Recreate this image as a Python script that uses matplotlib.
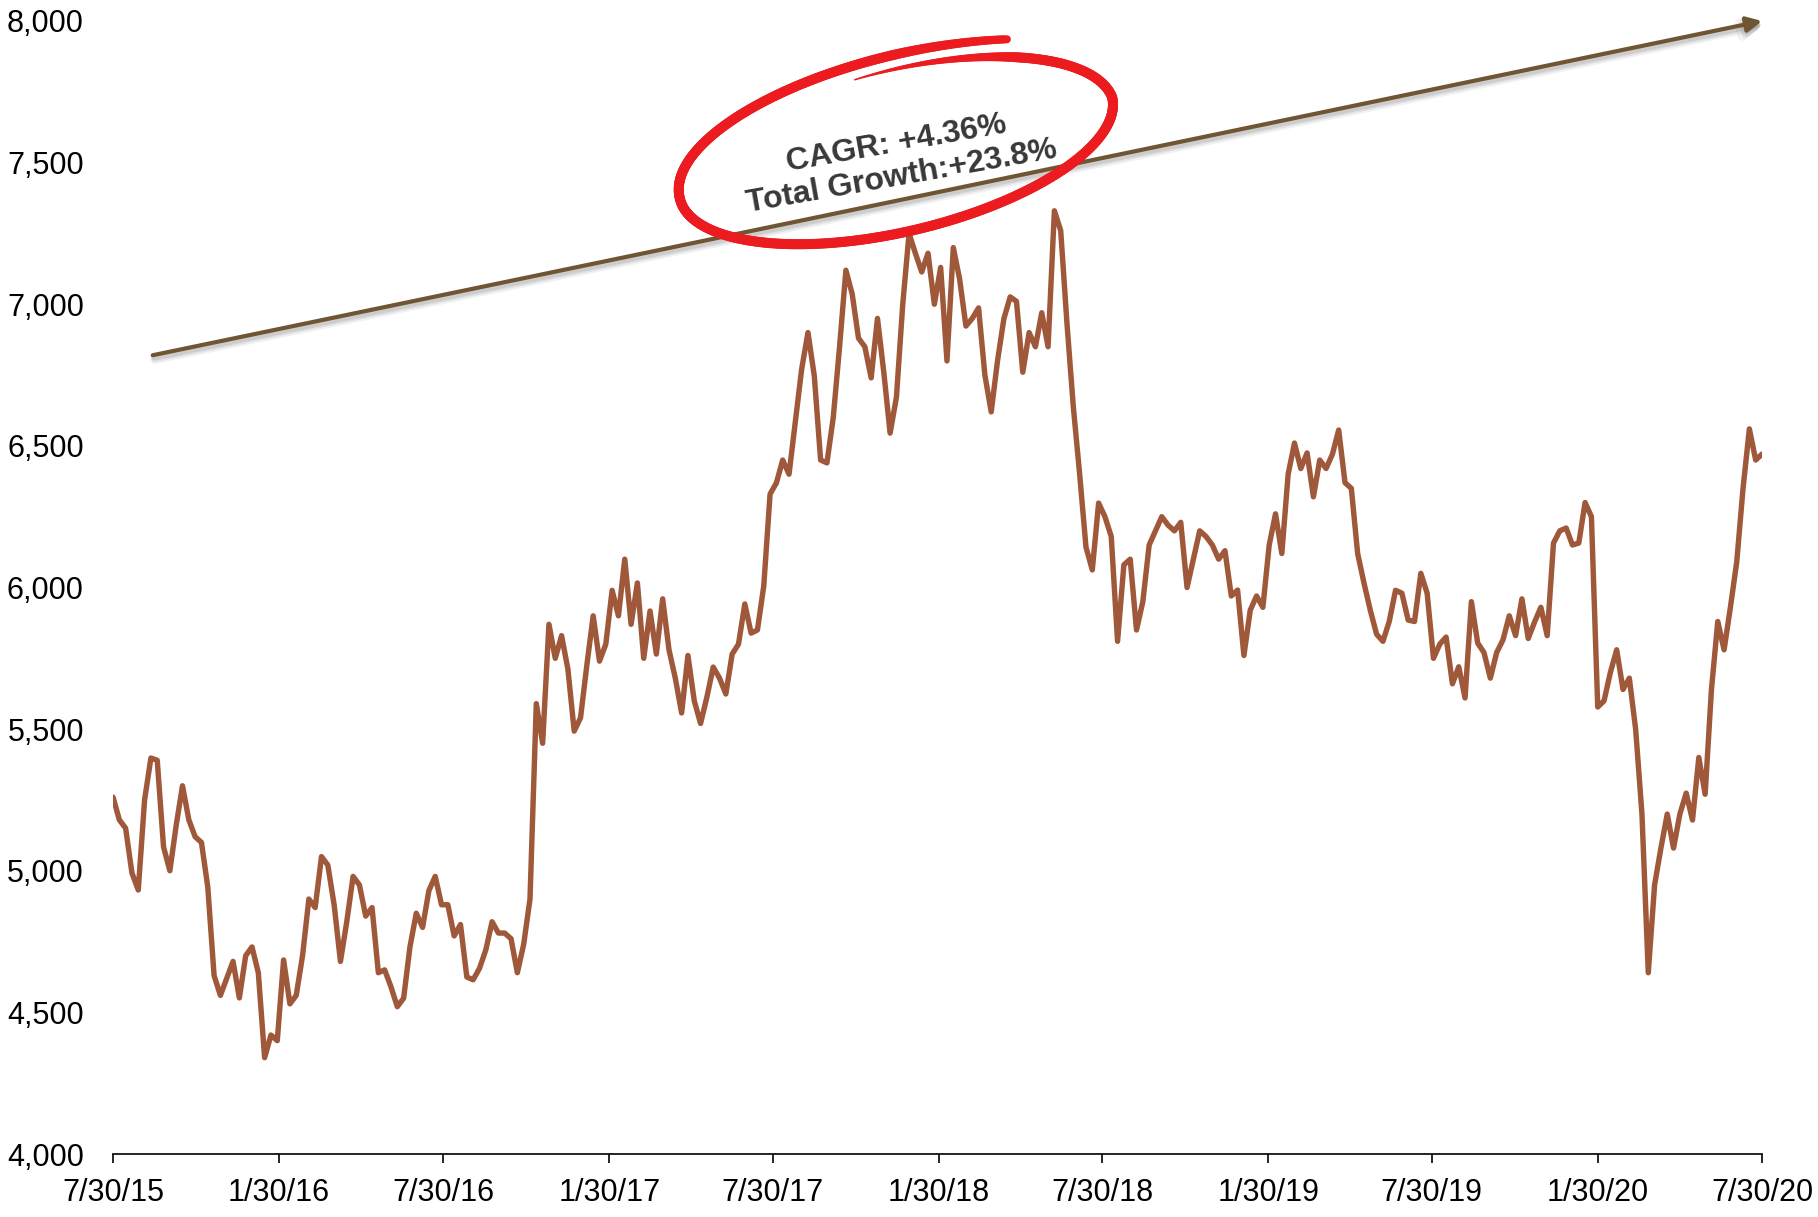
import numpy as np
import pandas as pd
import matplotlib
matplotlib.use("Agg")
import matplotlib.pyplot as plt
import matplotlib.dates as mdates
from matplotlib.ticker import FuncFormatter
from matplotlib.collections import LineCollection
from matplotlib.transforms import offset_copy

plt.rcParams['font.family'] = ['Liberation Sans', 'DejaVu Sans']

# ---------------- data (weekly readings, 7/30/15 .. 7/30/20) ----------------
start_date = "2015-07-30"
end_date = "2020-07-30"
index_values = [
    5260, 5180, 5150, 4992, 4932, 5250, 5398, 5390, 5084, 5000,
    5160, 5300, 5180, 5120, 5100, 4943, 4630, 4560, 4620, 4680,
    4551, 4700, 4731, 4640, 4340, 4420, 4400, 4685, 4530, 4560,
    4700, 4900, 4870, 5050, 5020, 4880, 4680, 4820, 4980, 4950,
    4840, 4870, 4640, 4650, 4590, 4520, 4550, 4731, 4850, 4800,
    4930, 4980, 4880, 4880, 4770, 4810, 4625, 4615, 4655, 4720,
    4820, 4780, 4780, 4760, 4640, 4740, 4900, 5590, 5450, 5870,
    5750, 5830, 5712, 5493, 5540, 5726, 5900, 5740, 5800, 5990,
    5900, 6100, 5870, 6016, 5750, 5917, 5765, 5960, 5780, 5680,
    5557, 5760, 5600, 5520, 5613, 5719, 5680, 5624, 5765, 5800,
    5942, 5839, 5850, 6005, 6330, 6369, 6450, 6400, 6584, 6771,
    6900, 6747, 6450, 6440, 6600, 6850, 7120, 7036, 6880, 6850,
    6740, 6950, 6760, 6545, 6672, 7000, 7250, 7180, 7114, 7180,
    7000, 7130, 6800, 7200, 7089, 6923, 6950, 6987, 6750, 6620,
    6800, 6948, 7026, 7010, 6760, 6900, 6850, 6970, 6850, 7330,
    7260, 6930, 6637, 6400, 6143, 6062, 6298, 6250, 6180, 5810,
    6080, 6100, 5850, 5950, 6150, 6200, 6250, 6220, 6200, 6230,
    6000, 6100, 6200, 6180, 6150, 6100, 6130, 5970, 5991, 5760,
    5920, 5970, 5930, 6150, 6260, 6120, 6400, 6510, 6420, 6475,
    6320, 6450, 6420, 6470, 6556, 6370, 6350, 6120, 6016, 5920,
    5835, 5810, 5880, 5990, 5980, 5885, 5880, 6050, 5980, 5750,
    5800, 5825, 5660, 5720, 5610, 5950, 5804, 5770, 5680, 5770,
    5815, 5900, 5830, 5960, 5820, 5878, 5930, 5830, 6157, 6200,
    6210, 6150, 6157, 6300, 6250, 5578, 5600, 5700, 5780, 5640,
    5680, 5500, 5200, 4640, 4950, 5080, 5200, 5080, 5200, 5274,
    5179, 5400, 5270, 5640, 5880, 5780, 5930, 6090, 6350, 6560,
    6450, 6471,
]
tick_dates = ["2015-07-30", "2016-01-30", "2016-07-30", "2017-01-30",
              "2017-07-30", "2018-01-30", "2018-07-30", "2019-01-30",
              "2019-07-30", "2020-01-30", "2020-07-30"]
tick_labels = ["7/30/15", "1/30/16", "7/30/16", "1/30/17", "7/30/17",
               "1/30/18", "7/30/18", "1/30/19", "7/30/19", "1/30/20", "7/30/20"]
y_ticks = [4000, 4500, 5000, 5500, 6000, 6500, 7000, 7500, 8000]

trend_start = ("2015-09-12", 6820)
trend_end = ("2020-07-30", 8000)
annotation_text = "CAGR: +4.36%\nTotal Growth:+23.8%"

dates = pd.date_range(start_date, end_date, freq="7D")

# ---------------- figure ----------------
W, H = 1818, 1217
fig = plt.figure(figsize=(W / 100, H / 100), dpi=100)
fig.patch.set_facecolor("white")
ax = fig.add_axes([113 / W, 1 - 1154 / H, (1762 - 113) / W, (1154 - 21) / H])

line_color = "#A0583A"
ax.plot(dates, index_values, color=line_color, lw=3.9,
        solid_joinstyle="round", solid_capstyle="round", zorder=3)

ax.set_xlim(pd.Timestamp(start_date), pd.Timestamp(end_date))
ax.set_ylim(4000, 8000)
ax.set_xticks(pd.to_datetime(tick_dates))
ax.set_xticklabels(tick_labels)
ax.set_yticks(y_ticks)
ax.yaxis.set_major_formatter(FuncFormatter(lambda v, p: f"{int(v):,}"))

for s in ["top", "right", "left"]:
    ax.spines[s].set_visible(False)
ax.spines["bottom"].set_linewidth(1.2)
ax.spines["bottom"].set_color("black")
ax.tick_params(axis="x", direction="out", length=6.5, width=1.2,
               labelsize=22, pad=11, colors="black")
ax.tick_params(axis="y", length=0, labelsize=22, pad=21, colors="black")
ax.set_facecolor("none")

# ---------------- trend arrow with soft shadow ----------------
p0 = (mdates.date2num(pd.Timestamp(trend_start[0])), trend_start[1])
p1 = (mdates.date2num(pd.Timestamp(trend_end[0])), trend_end[1])
for dx, dy, a, lw in [(2, -4, 0.10, 7), (2, -3.5, 0.15, 5), (1.5, -3, 0.2, 3.5)]:
    tr = offset_copy(ax.transData, fig=fig, x=dx, y=dy, units="dots")
    ax.annotate("", xy=p1, xytext=p0, xycoords=tr, textcoords=tr,
                arrowprops=dict(arrowstyle="-|>,head_length=0.9,head_width=0.45",
                                color="#808080", alpha=a, lw=lw,
                                shrinkA=0, shrinkB=0), zorder=2,
                annotation_clip=False)
ax.annotate("", xy=p1, xytext=p0,
            arrowprops=dict(arrowstyle="-|>,head_length=0.9,head_width=0.45",
                            color="#705535", lw=3,
                            shrinkA=0, shrinkB=0), zorder=4,
            annotation_clip=False)

# ---------------- overlay: hand-drawn red ellipse + text ----------------
ov = fig.add_axes([0, 0, 1, 1], zorder=10)
ov.set_xlim(0, W)
ov.set_ylim(H, 0)
ov.axis("off")
ov.patch.set_alpha(0)

cx, cy = 896, 148
a_ax, b_ax = 222, 84
phi = np.deg2rad(-13.2)
u = np.array([np.cos(phi), np.sin(phi)])
v = np.array([-np.sin(phi), np.cos(phi)])
t0, t1 = 4.59, 2 * np.pi + 5.27
t = np.linspace(t0, t1, 500)
s = np.ones_like(t)
m1 = t < 2 * np.pi
s[m1] = 0.91 + 0.09 * ((t[m1] - t0) / (2 * np.pi - t0))
m3 = t > 3 * np.pi
s[m3] = 1.0 + 0.13 * ((t[m3] - 3 * np.pi) / (t1 - 3 * np.pi)) ** 1.5
xs = cx + s * (a_ax * np.cos(t) * u[0] + b_ax * np.sin(t) * v[0])
ys = cy + s * (a_ax * np.cos(t) * u[1] + b_ax * np.sin(t) * v[1])
pts = np.column_stack([xs, ys]).reshape(-1, 1, 2)
segs = np.concatenate([pts[:-1], pts[1:]], axis=1)
frac = (t[:-1] - t0) / (t1 - t0)
wpx = np.clip(1.5 + (frac / 0.12) * 8.5, 1.5, 10.0)
wpx = np.where(frac > 0.93, 10.0 - (frac - 0.93) / 0.07 * 2.0, wpx)
lc = LineCollection(segs, linewidths=wpx * 0.72, colors="#EC1B1F",
                    capstyle="round", joinstyle="round")
ov.add_collection(lc)

ov.text(899, 160, annotation_text, rotation=10, rotation_mode="anchor",
        ha="center", va="center", multialignment="center",
        fontsize=23, fontweight="bold", color="#383838", linespacing=1.15)

fig.savefig("out.png", dpi=100, facecolor="white")
